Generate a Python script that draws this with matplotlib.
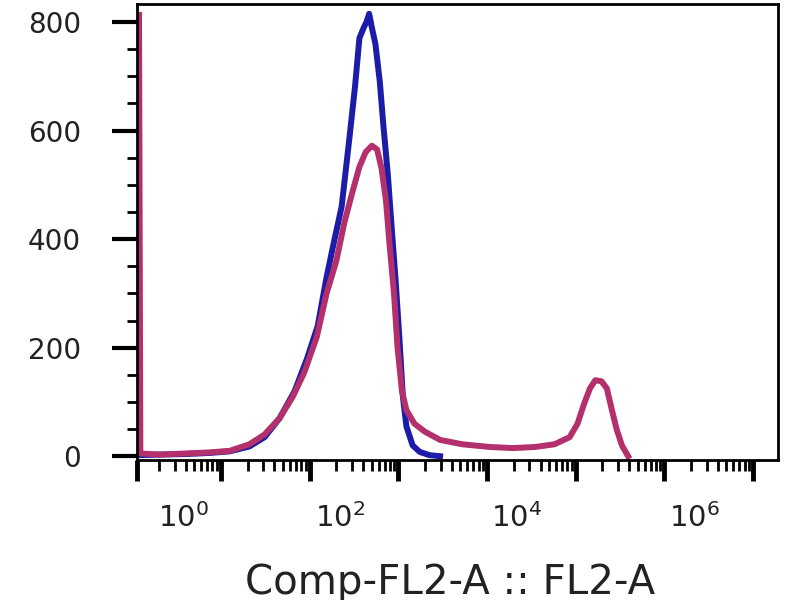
import numpy as np
import matplotlib.pyplot as plt

# x values are log10(FL2-A) decades, y values are cell counts
blue_x = [0.08, 0.31, 0.59, 0.87, 1.10, 1.32, 1.49, 1.66, 1.83, 1.97, 2.09, 2.19,
          2.28, 2.36, 2.45, 2.51, 2.56, 2.61, 2.64, 2.67, 2.70, 2.74, 2.79, 2.83,
          2.88, 2.92, 2.97, 3.01, 3.05, 3.09, 3.16, 3.24, 3.35, 3.47]
blue_y = [2, 3, 4, 6, 9, 18, 35, 70, 120, 180, 240, 330,
          400, 460, 590, 680, 770, 790, 800, 815, 790, 760, 690, 610,
          520, 430, 320, 220, 110, 55, 20, 8, 2, 0]

pink_x = [0.075, 0.09, 0.31, 0.59, 0.87, 1.10, 1.32, 1.49, 1.66, 1.81, 1.94, 2.08,
          2.19, 2.30, 2.39, 2.47, 2.56, 2.63, 2.70, 2.76, 2.81, 2.86, 2.90, 2.95,
          2.99, 3.04, 3.09, 3.18, 3.30, 3.47, 3.72, 4.03, 4.29, 4.54, 4.76, 4.93,
          5.02, 5.09, 5.16, 5.22, 5.29, 5.35, 5.40, 5.46, 5.52, 5.59]
pink_y = [813, 5, 3, 5, 7, 10, 22, 40, 70, 110, 155, 220,
          300, 360, 430, 480, 533, 560, 572, 565, 530, 470, 390, 300,
          200, 120, 85, 60, 45, 30, 22, 17, 15, 17, 22, 35,
          60, 95, 125, 140, 138, 125, 90, 50, 20, 0]

decade_ticks = [0.05, 1, 2, 3, 4, 5, 6, 7]
label_pos = [0.58, 2.34, 4.33, 6.34]
label_txt = ['$10^0$', '$10^2$', '$10^4$', '$10^6$']
y_major = [0, 200, 400, 600, 800]

fig = plt.figure(figsize=(8, 6), dpi=100)
ax = fig.add_axes([0.171, 0.2333, 0.8015, 0.76])

ax.plot(blue_x, blue_y, color='#1c1ca8', lw=4.3, solid_joinstyle='round')
ax.plot(pink_x, pink_y, color='#b3306c', lw=4.3, solid_joinstyle='round')

ax.set_xlim(0.05, 7.28)
ax.set_ylim(-7, 833)

for s in ax.spines.values():
    s.set_linewidth(2)

# y axis
ax.set_yticks(y_major)
ax.set_yticks(np.arange(50, 833, 50), minor=True)
ax.tick_params(axis='y', which='major', length=18, width=3, pad=22,
               labelsize=20, labelcolor='#222222', direction='out')
ax.tick_params(axis='y', which='minor', length=7, width=2, direction='out')

# x axis: decade ticks with log minor ticks, labels drawn on a secondary axis
minor = [d + np.log10(k) for d in range(0, 8) for k in range(2, 10)]
minor = [m for m in minor if 0.05 < m < 7.28]
ax.set_xticks(decade_ticks)
ax.set_xticks(minor, minor=True)
ax.tick_params(axis='x', which='major', length=15, width=3.5, labelbottom=False,
               direction='out')
ax.tick_params(axis='x', which='minor', length=8, width=2, direction='out')

sec = ax.secondary_xaxis('bottom')
sec.set_xticks(label_pos)
sec.set_xticklabels(label_txt)
sec.tick_params(length=0, pad=31, labelsize=21, labelcolor='#222222')
sec.spines['bottom'].set_visible(False)

ax.set_xlabel('Comp-FL2-A :: FL2-A', fontsize=29, color='#222222')
ax.xaxis.set_label_coords(0.488, -0.226)

fig.savefig('out.png', dpi=100)
